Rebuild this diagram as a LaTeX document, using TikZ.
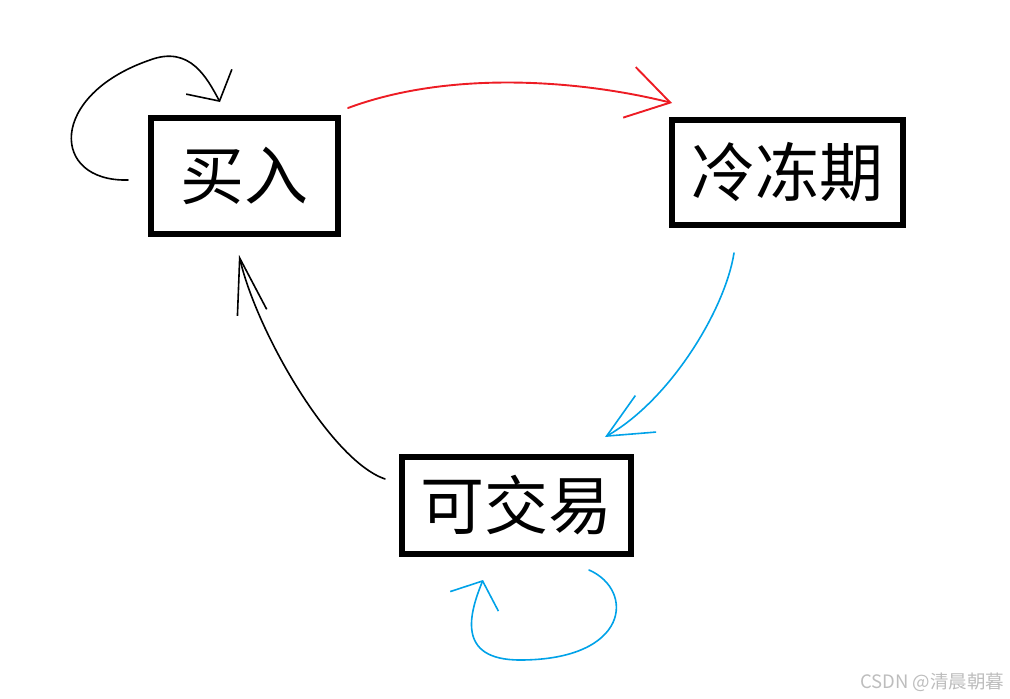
\documentclass[tikz,border=0pt]{standalone}
\usepackage{fontspec}
\newfontfamily\cjk{Noto Sans CJK SC}
\usetikzlibrary{arrows.meta, positioning}
\definecolor{cred}{HTML}{ED1C24}
\definecolor{cblue}{HTML}{00A2E8}
\definecolor{cink}{HTML}{000000}
\definecolor{cgrey}{HTML}{BDBDBD}
\tikzset{
  every picture/.style={font=\cjk, line width=1.6pt},
  state/.style={draw=cink, line width=6pt, inner sep=0pt, font=\cjk\fontsize{64}{64}\selectfont},
  hand/.style={draw=#1, line width=1.6pt, line cap=round},
  hand/.default=cink,
  wmark/.style={font=\cjk\fontsize{18.5}{18.5}\selectfont, text=cgrey, inner sep=0pt},
}

\begin{document}
\begin{tikzpicture}[x=1pt, y=-1pt]
  \useasboundingbox (0,0) rectangle (1010,699);
  % the three states
  \node[state, minimum width=187pt, minimum height=116pt] (buy) at (244.5,176) {买入};
  \node[state, minimum width=231pt, minimum height=105pt] (freeze) at (787.5,172.5) {冷冻期};
  \node[state, minimum width=229pt, minimum height=97pt] (trade) at (516.5,505.5) {可交易};
  % free ends of the hand drawn arrows
  \coordinate (buyS) at (128,180);
  \coordinate (buyE) at (220,102);
  \coordinate (redS) at (348,108);
  \coordinate (redE) at (672,103);
  \coordinate (blueS) at (734,253);
  \coordinate (blueE) at (605,437);
  \coordinate (backS) at (385,479);
  \coordinate (backE) at (239,255);
  \coordinate (tradeS) at (589,570);
  \coordinate (tradeE) at (483,580);
  % buy -> buy
  \draw[hand, -{Straight Barb[length=22pt, width=52pt]}]
    (buyS) .. controls (50,182) and (48,95) .. (150,60)
           .. controls (190,45) and (207,78) .. (buyE);
  % buy -> freeze
  \draw[hand=cred, line width=1.9pt, -{Straight Barb[length=42pt, width=52pt]}]
    (redS) .. controls (450,70) and (580,80) .. (redE);
  % freeze -> trade
  \draw[hand=cblue, -{Straight Barb[length=45pt, width=42pt]}]
    (blueS) .. controls (725,310) and (670,400) .. (blueE);
  % trade -> buy
  \draw[hand, -{Straight Barb[length=56pt, width=30pt]}]
    (backS) .. controls (330,460) and (256,330) .. (backE);
  % trade -> trade
  \draw[hand=cblue, -{Straight Barb[length=22pt, width=52pt]}]
    (tradeS) .. controls (635,590) and (630,660) .. (520,660)
             .. controls (455,660) and (470,612) .. (tradeE);
  \node[wmark, anchor=east] (wm) at (1005,682) {CSDN @清晨朝暮};
\end{tikzpicture}
\end{document}
